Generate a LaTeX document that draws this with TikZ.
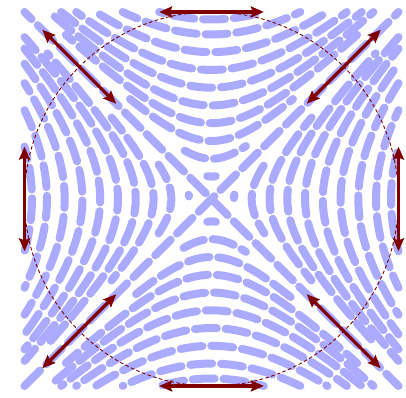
\documentclass[tikz,border=0pt]{standalone}
\usetikzlibrary{arrows.meta}
\definecolor{streamblue}{RGB}{170,170,255}
\definecolor{fieldred}{RGB}{128,0,0}
\begin{document}
\begin{tikzpicture}[x=187pt,y=187pt,line width=0.4pt,
  stream/.style={streamblue,line width=8pt,line cap=round,dash pattern=on 22pt off 8.8pt},
  circ/.style={fieldred,line width=0.9pt,dash pattern=on 3.5pt off 2.5pt},
  dir/.style={fieldred,line width=3.2pt,{Stealth[length=13pt,width=11pt,inset=2pt]}-{Stealth[length=13pt,width=11pt,inset=2pt]}}]
\useasboundingbox (-1.131,-1.059) rectangle (1.040,1.064);
\coordinate (O) at (0,0);
\foreach \r in {0,90,180,270}{
  \begin{scope}[rotate=\r]
  \foreach \a [count=\k] in {0.12,0.215,0.31,0.405,0.5,0.595,0.69,0.785,0.88,0.96}{
    \pgfmathsetmacro\xe{min(sqrt(1-\a*\a),(\a*\a-0.0098)/0.198)}
    \pgfmathsetmacro\ph{mod(11*\k+\r/7,31)}
    \draw[stream,dash phase=\ph pt] plot[domain=-\xe:\xe,samples=40] (\x,{sqrt(\a*\a+\x*\x)});
  }
  \end{scope}
}
\draw[stream] (-1,-1) -- (1,1);
\draw[stream,dash phase=12pt] (-1,1) -- (1,-1);
\draw[circ] (O) circle[radius=1];
\foreach \t in {0,45,...,315}
  \draw[dir] (\t:1) ++(90-\t:-0.28) -- ++(90-\t:0.56);
\end{tikzpicture}
\end{document}
